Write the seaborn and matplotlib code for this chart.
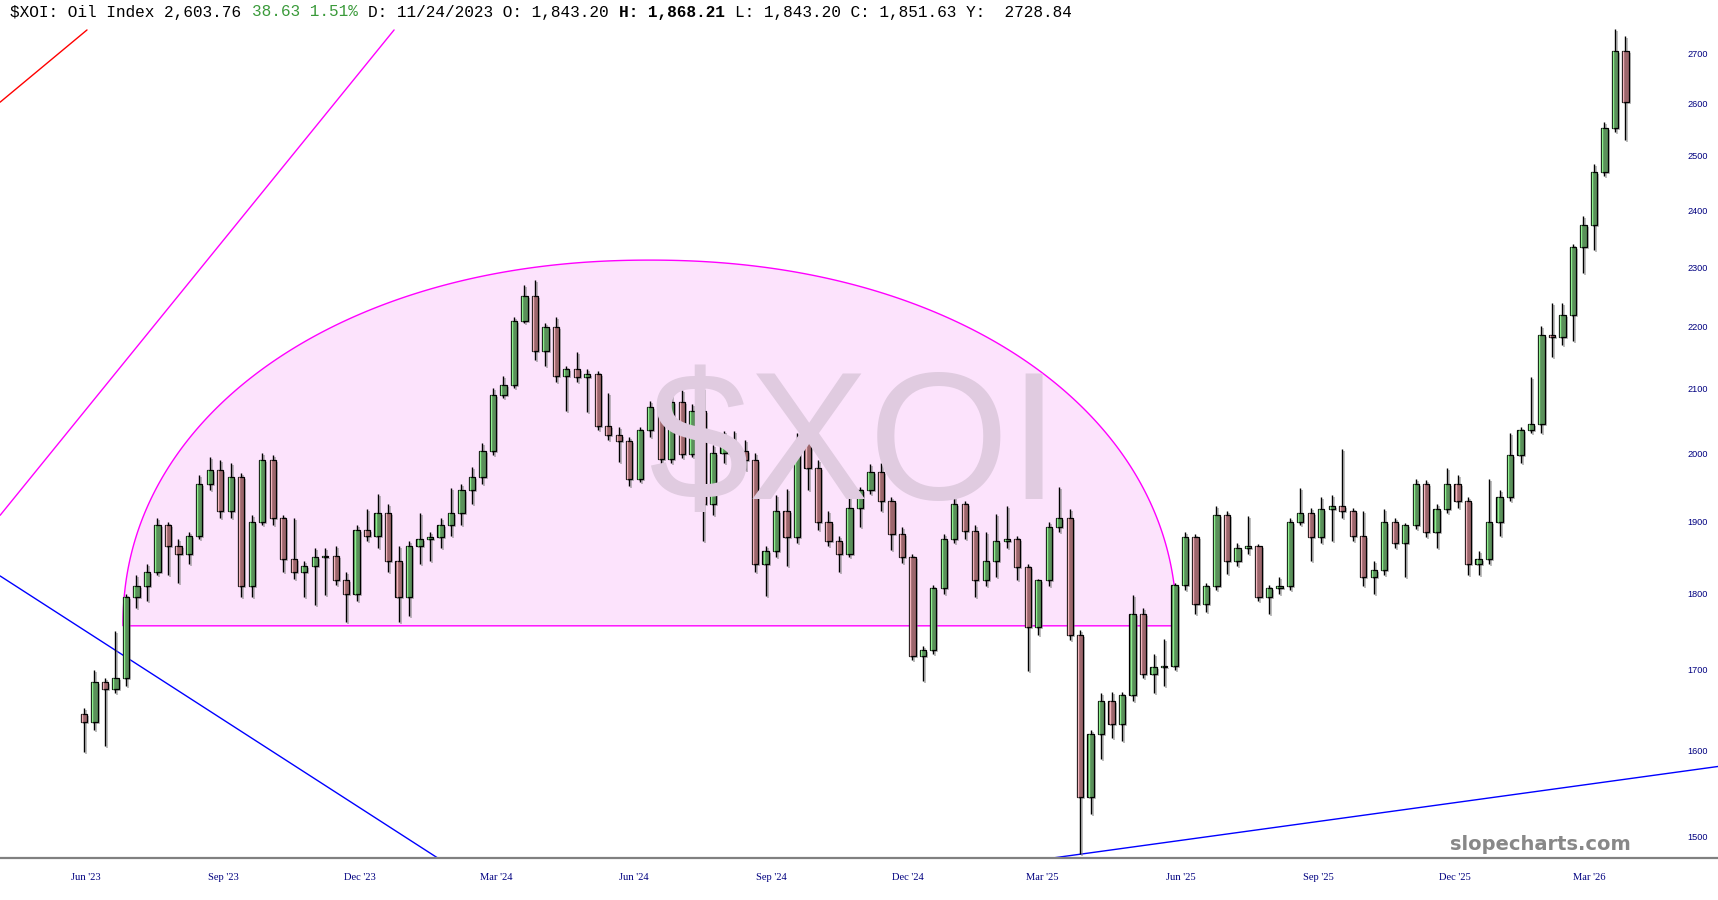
import numpy as np
import pandas as pd
import seaborn as sns
import matplotlib
matplotlib.use('Agg')
from matplotlib import pyplot as plt
from matplotlib import transforms

# weekly candles (first week drawn at 2023-05-31)
first_week = '2023-05-31'
opens = [1645, 1635, 1685, 1675, 1690, 1795, 1810, 1830, 1895, 1865,
         1855, 1880, 1955, 1975, 1915, 1965, 1810, 1900, 1990, 1905,
         1848, 1830, 1838, 1850, 1852, 1818, 1800, 1888, 1880, 1912,
         1845, 1795, 1865, 1875, 1878, 1895, 1912, 1945, 1965, 2004,
         2090, 2105, 2208, 2250, 2160, 2198, 2120, 2130, 2118, 2122,
         2042, 2028, 2018, 1962, 2035, 2070, 1992, 2078, 1999, 2065,
         1925, 2000, 2015, 2004, 1990, 1840, 1858, 1915, 1878, 2015,
         1978, 1900, 1873, 1855, 1920, 1945, 1972, 1930, 1882, 1850,
         1718, 1725, 1808, 1875, 1925, 1887, 1818, 1845, 1873, 1875,
         1836, 1755, 1818, 1892, 1905, 1745, 1545, 1620, 1660, 1632,
         1668, 1772, 1694, 1703, 1705, 1812, 1878, 1786, 1810, 1910,
         1845, 1862, 1865, 1796, 1808, 1810, 1900, 1912, 1878, 1918,
         1922, 1915, 1880, 1822, 1832, 1900, 1870, 1895, 1955, 1885,
         1918, 1955, 1930, 1840, 1848, 1900, 1935, 1998, 2035, 2045,
         2186, 2182, 2218, 2334, 2374, 2470, 2553, 2705]
highs = [1652, 1700, 1690, 1750, 1800, 1825, 1840, 1905, 1900, 1875,
         1885, 1968, 1995, 1990, 1985, 1970, 1910, 2000, 1998, 1910,
         1905, 1845, 1862, 1862, 1865, 1830, 1895, 1918, 1940, 1925,
         1865, 1872, 1912, 1885, 1905, 1948, 1955, 1980, 2015, 2100,
         2120, 2215, 2270, 2278, 2205, 2215, 2135, 2158, 2130, 2128,
         2092, 2040, 2025, 2040, 2080, 2080, 2090, 2098, 2075, 2100,
         2012, 2034, 2034, 2020, 2000, 1865, 1938, 1947, 2030, 2030,
         1990, 1915, 1880, 1945, 1950, 1984, 1985, 1935, 1892, 1855,
         1730, 1812, 1882, 1936, 1930, 1895, 1885, 1911, 1922, 1880,
         1840, 1820, 1900, 1950, 1918, 1752, 1625, 1670, 1672, 1672,
         1798, 1780, 1720, 1740, 1815, 1885, 1882, 1815, 1922, 1915,
         1870, 1908, 1868, 1812, 1822, 1905, 1948, 1920, 1936, 1938,
         2006, 1920, 1915, 1845, 1918, 1905, 1898, 1962, 1960, 1925,
         1978, 1968, 1935, 1858, 1962, 1945, 2030, 2040, 2117, 2200,
         2238, 2238, 2340, 2390, 2485, 2565, 2750, 2735]
lows = [1598, 1625, 1606, 1670, 1680, 1780, 1790, 1825, 1825, 1815,
        1840, 1875, 1945, 1905, 1905, 1795, 1795, 1895, 1895, 1830,
        1820, 1795, 1785, 1798, 1812, 1762, 1790, 1872, 1862, 1830,
        1762, 1770, 1840, 1845, 1862, 1880, 1895, 1925, 1955, 1998,
        2085, 2100, 2205, 2145, 2135, 2110, 2065, 2110, 2063, 2035,
        2020, 1987, 1952, 1958, 2025, 1982, 1985, 1993, 1995, 1873,
        1910, 1985, 1957, 1975, 1830, 1797, 1850, 1838, 1870, 1945,
        1888, 1865, 1829, 1850, 1892, 1940, 1915, 1860, 1842, 1712,
        1686, 1720, 1800, 1870, 1875, 1796, 1810, 1822, 1862, 1818,
        1699, 1745, 1810, 1885, 1738, 1480, 1525, 1590, 1615, 1612,
        1660, 1690, 1670, 1680, 1700, 1805, 1772, 1775, 1805, 1827,
        1838, 1855, 1790, 1772, 1800, 1805, 1895, 1845, 1869, 1872,
        1905, 1872, 1810, 1800, 1825, 1862, 1822, 1890, 1878, 1862,
        1912, 1920, 1825, 1825, 1840, 1880, 1930, 1985, 2030, 2030,
        2150, 2170, 2175, 2290, 2330, 2462, 2545, 2530]
closes = [1635, 1685, 1675, 1690, 1795, 1810, 1830, 1895, 1865, 1855,
          1880, 1955, 1975, 1915, 1965, 1810, 1900, 1990, 1905, 1848,
          1830, 1838, 1850, 1852, 1818, 1800, 1888, 1880, 1912, 1845,
          1795, 1865, 1875, 1878, 1895, 1912, 1945, 1965, 2004, 2090,
          2105, 2208, 2250, 2160, 2198, 2120, 2130, 2118, 2122, 2042,
          2028, 2018, 1962, 2035, 2070, 1992, 2078, 1999, 2065, 1925,
          2000, 2015, 2004, 1990, 1840, 1858, 1915, 1878, 2015, 1978,
          1900, 1873, 1855, 1920, 1945, 1972, 1930, 1882, 1850, 1718,
          1725, 1808, 1875, 1925, 1887, 1818, 1845, 1873, 1875, 1836,
          1755, 1818, 1892, 1905, 1745, 1545, 1620, 1660, 1632, 1668,
          1772, 1694, 1703, 1705, 1812, 1878, 1786, 1810, 1910, 1845,
          1862, 1865, 1796, 1808, 1810, 1900, 1912, 1878, 1918, 1922,
          1915, 1880, 1822, 1832, 1900, 1870, 1895, 1955, 1885, 1918,
          1955, 1930, 1840, 1848, 1900, 1935, 1998, 2035, 2045, 2186,
          2182, 2218, 2334, 2374, 2470, 2553, 2705, 2604]

month_ticks = ['2023-06-01', '2023-09-01', '2023-12-01', '2024-03-01',
               '2024-06-01', '2024-09-01', '2024-12-01', '2025-03-01',
               '2025-06-01', '2025-09-01', '2025-12-01', '2026-03-01']
month_labels = ["Jun '23", "Sep '23", "Dec '23", "Mar '24", "Jun '24", "Sep '24",
                "Dec '24", "Mar '25", "Jun '25", "Sep '25", "Dec '25", "Mar '26"]
price_ticks = [1500, 1600, 1700, 1800, 1900, 2000, 2100, 2200, 2300, 2400,
               2500, 2600, 2700]

# hand drawn trend lines, end points as (date, price)
red_dates, red_prices = ['2023-04-05 00:00', '2023-06-02 00:00'], [2603, 2748]
pink_dates, pink_prices = ['2023-04-05 00:00', '2023-12-24 00:00'], [1909, 2748]
down_dates, down_prices = ['2023-04-05 00:00', '2024-01-24 00:00'], [1824, 1474]
up_dates, up_prices = ['2025-02-22 12:00', '2026-05-26 00:00'], [1473, 1581]

# rounding top shape
dome_dates = ['2023-06-26 00:00', '2025-05-29 10:00']
dome_base, dome_top = 1757, 2312

df = pd.DataFrame({'open': opens, 'high': highs, 'low': lows, 'close': closes})
df['date'] = pd.date_range(first_week, periods=len(df), freq='7D')
df['up'] = df['close'] >= df['open']
df['bottom'] = df[['open', 'close']].min(axis=1)
df['top'] = df[['open', 'close']].max(axis=1)
df['height'] = (df['top'] - df['bottom']).clip(lower=2)

sns.set_theme(style='white')
plt.rcParams['font.family'] = ['DejaVu Sans']

fig = plt.figure(figsize=(17.18, 9.0), dpi=100)
ax = fig.add_axes([0, 42 / 900, 1, 830 / 900])
ax.set_yscale('log')

# dome
x0, x1 = [matplotlib.dates.date2num(pd.Timestamp(d)) for d in dome_dates]
t = np.linspace(0, np.pi, 300)
sq = 2 / 2.1
cx = np.sign(np.cos(t)) * np.abs(np.cos(t)) ** sq
cy = np.abs(np.sin(t)) ** sq
dome_x = (x0 + x1) / 2 + (x1 - x0) / 2 * cx
dome_y = np.exp(np.log(dome_base) + (np.log(dome_top) - np.log(dome_base)) * cy)
ax.fill(dome_x, dome_y, facecolor='#fce3fc', edgecolor='#ff00ff', lw=1.0, zorder=0.5)

# watermark
fig.text(854 / 1718, 1 - 499 / 900, '$XOI', fontsize=130, family='Liberation Sans',
         color='#e0cbe0', ha='center', va='baseline', zorder=1)

# trend lines
for d, p, c in [(red_dates, red_prices, '#ff0000'), (pink_dates, pink_prices, '#ff00ff'),
                (down_dates, down_prices, '#0000ff'), (up_dates, up_prices, '#0000ff')]:
    sns.lineplot(x=pd.to_datetime(d), y=p, ax=ax, color=c, lw=1.0, zorder=2)

# candles, with a soft shadow
shadow = transforms.offset_copy(ax.transData, fig=fig, x=2, y=-2, units='dots')
ax.vlines(df['date'], df['low'], df['high'], color='#808080', alpha=0.6, lw=1.2,
          transform=shadow, zorder=2.5)
ax.bar(df['date'], df['height'], bottom=df['bottom'], width=4.2, color='#808080',
       alpha=0.5, lw=0, transform=shadow, zorder=2.5)
ax.vlines(df['date'], df['low'], df['high'], color='black', lw=1.0, zorder=3)
colors = np.where(df['up'], '#5a905a', '#9c666c')
ax.bar(df['date'], df['height'], bottom=df['bottom'], width=4.2, color=colors,
       edgecolor='black', lw=0.9, zorder=3.2)
# light inner edge on each body
glint = transforms.offset_copy(ax.transData, fig=fig, x=-2, y=0, units='dots')
ax.vlines(df['date'], df['bottom'], df['top'], transform=glint, lw=1.0, zorder=3.3,
          color=np.where(df['up'], '#8cf08c', '#f2b4bc'))

# axes styling
ax.set_xlim(pd.Timestamp('2023-04-04 22:00'), pd.Timestamp('2026-05-25 20:00'))
ax.set_ylim(1476, 2752)
ax.set_xlabel('')
ax.set_ylabel('')
for s in ['top', 'left', 'right']:
    ax.spines[s].set_visible(False)
ax.spines['bottom'].set_color('#808080')
ax.spines['bottom'].set_linewidth(1.6)

ax.set_xticks(pd.to_datetime(month_ticks))
ax.set_xticklabels(month_labels, family='Liberation Serif', fontsize=7.6, color='#000080')
ax.tick_params(axis='x', length=0, pad=11)

ax.yaxis.tick_right()
ax.yaxis.set_minor_locator(matplotlib.ticker.NullLocator())
ax.set_yticks(price_ticks)
ax.set_yticklabels([str(v) for v in price_ticks], family='Liberation Sans',
                   fontsize=6.6, color='#000080')
for lab in ax.get_yticklabels():
    lab.set_ha('right')
ax.tick_params(axis='y', length=0, pad=-7.2)
ax.grid(False)

# header line
char_w = 9.66
header = [(0, '$XOI: Oil Index 2,603.76', 'black', 'normal'),
          (25, '38.63 1.51%', '#3a9a3a', 'normal'),
          (37, 'D: 11/24/2023 O: 1,843.20', 'black', 'normal'),
          (63, 'H: 1,868.21', 'black', 'bold'),
          (75, 'L: 1,843.20 C: 1,851.63 Y:  2728.84', 'black', 'normal')]
for n, txt, col, w in header:
    fig.text((10.5 + n * char_w) / 1718, 1 - 12 / 900, txt, family='Liberation Mono',
             fontsize=11.6, color=col, weight=w, va='center', ha='left')

fig.text(1540 / 1718, 1 - 845 / 900, 'slopecharts.com', family='DejaVu Sans',
         weight='bold', fontsize=14, color='#888888', ha='center', va='center')

fig.savefig('out.png', dpi=100)
